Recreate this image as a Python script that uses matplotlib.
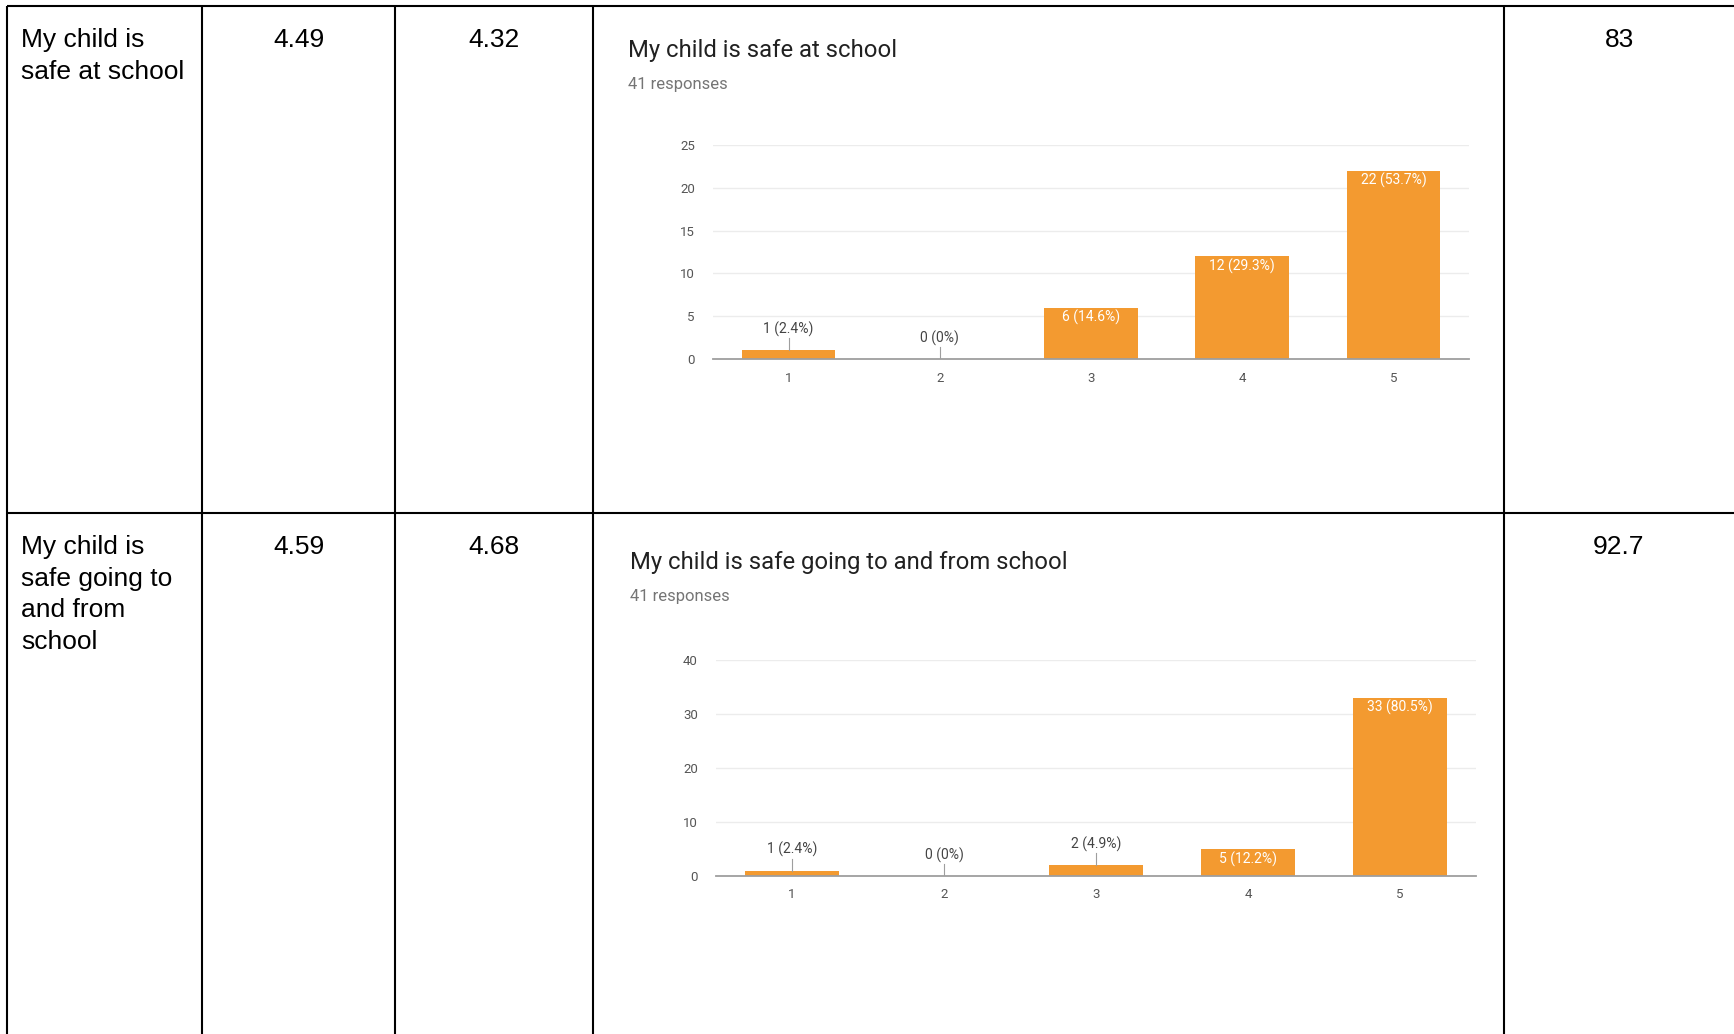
import matplotlib
matplotlib.use("Agg")
import matplotlib.pyplot as plt

# ---------------- data ----------------
questions = ["My child is\nsafe at school", "My child is\nsafe going to\nand from\nschool"]
score_a = ["4.49", "4.59"]
score_b = ["4.32", "4.68"]
score_pct = ["83", "92.7"]
chart_titles = ["My child is safe at school", "My child is safe going to and from school"]
responses = [41, 41]
ratings = [1, 2, 3, 4, 5]
counts_school = [1, 0, 6, 12, 22]
counts_travel = [1, 0, 2, 5, 33]
all_counts = [counts_school, counts_travel]
y_max = [25, 40]
y_step = [5, 10]

# ---------------- layout (pixels) ----------------
W, H = 1734, 1034
DPI = 100
fig = plt.figure(figsize=(W / DPI, H / DPI), dpi=DPI)
fig.patch.set_facecolor("white")

bg = fig.add_axes([0, 0, 1, 1])
bg.set_xlim(0, W)
bg.set_ylim(H, 0)
bg.axis("off")

col_x = [7, 202, 395, 593, 1504]
row_y = [6, 513]
lw = 1.5
# table borders
bg.plot([col_x[0], W], [row_y[0], row_y[0]], color="black", lw=lw, solid_capstyle="butt")
bg.plot([col_x[0], W], [row_y[1], row_y[1]], color="black", lw=lw, solid_capstyle="butt")
for cx in col_x:
    bg.plot([cx, cx], [row_y[0], H], color="black", lw=lw, solid_capstyle="butt")

table_font = "Liberation Sans"
cell_centers = [(col_x[1] + col_x[2]) / 2, (col_x[2] + col_x[3]) / 2, W - (W - col_x[4]) / 2]
for r in range(2):
    ytop = row_y[r] + 22
    bg.text(21, ytop, questions[r], fontsize=19, family=table_font, va="top", ha="left",
            linespacing=1.4, color="black")
    bg.text(cell_centers[0], ytop, score_a[r], fontsize=19, family=table_font, va="top", ha="center")
    bg.text(cell_centers[1], ytop, score_b[r], fontsize=19, family=table_font, va="top", ha="center")
    bg.text(cell_centers[2], ytop, score_pct[r], fontsize=19, family=table_font, va="top", ha="center")

# chart geometry: (title_x, title_y, resp_y, left, right, y0_px, ytop_px)
charts = [
    (628, 50, 85, 713, 1469, 359, 145),
    (630, 562, 597, 716, 1476, 876, 660),
]

bar_color = "#F39A30"
chart_font = "Roboto"

for i, (tx, ty, ry, left, right, y0, yt) in enumerate(charts):
    bg.text(tx, ty, chart_titles[i], fontsize=17.2, family=chart_font, color="#212121",
            va="center", ha="left")
    bg.text(tx, ry, f"{responses[i]} responses", fontsize=12, family=chart_font, color="#757575",
            va="center", ha="left")

    ax = fig.add_axes([left / W, 1 - y0 / H, (right - left) / W, (y0 - yt) / H])
    counts = all_counts[i]
    ax.set_xlim(0.5, 5.5)
    ax.set_ylim(0, y_max[i])
    ax.bar(ratings, counts, width=0.62, color=bar_color, zorder=3)
    ticks = list(range(0, y_max[i] + 1, y_step[i]))
    ax.set_yticks(ticks)
    ax.set_xticks(ratings)
    ax.set_xticklabels([str(r) for r in ratings])
    ax.yaxis.grid(True, color="#ececec", lw=1)
    ax.set_axisbelow(True)
    for s in ["top", "right", "left"]:
        ax.spines[s].set_visible(False)
    ax.spines["bottom"].set_color("#9e9e9e")
    ax.spines["bottom"].set_linewidth(1.3)
    ax.spines["bottom"].set_zorder(4)
    ax.tick_params(axis="both", length=0, labelsize=9.5, labelcolor="#555555")
    ax.tick_params(axis="y", pad=13)
    ax.tick_params(axis="x", pad=9)
    for lab in ax.get_xticklabels() + ax.get_yticklabels():
        lab.set_family(chart_font)

    total = responses[i]
    px_per_unit = (y0 - yt) / y_max[i]
    for x, c in zip(ratings, counts):
        p = c / total * 100
        ptxt = f"{p:.1f}".rstrip("0").rstrip(".")
        label = f"{c} ({ptxt}%)"
        if c / y_max[i] > 0.1:
            ax.text(x, c - 10 / px_per_unit, label, ha="center", va="center", fontsize=10,
                    family=chart_font, color="white", zorder=5)
        else:
            ax.plot([x, x], [c, c + 12 / px_per_unit], color="#9e9e9e", lw=0.8, zorder=4)
            ax.text(x, c + 21 / px_per_unit, label, ha="center", va="center", fontsize=10,
                    family=chart_font, color="#444444", zorder=5)

fig.savefig("out.png", dpi=DPI, facecolor="white")
